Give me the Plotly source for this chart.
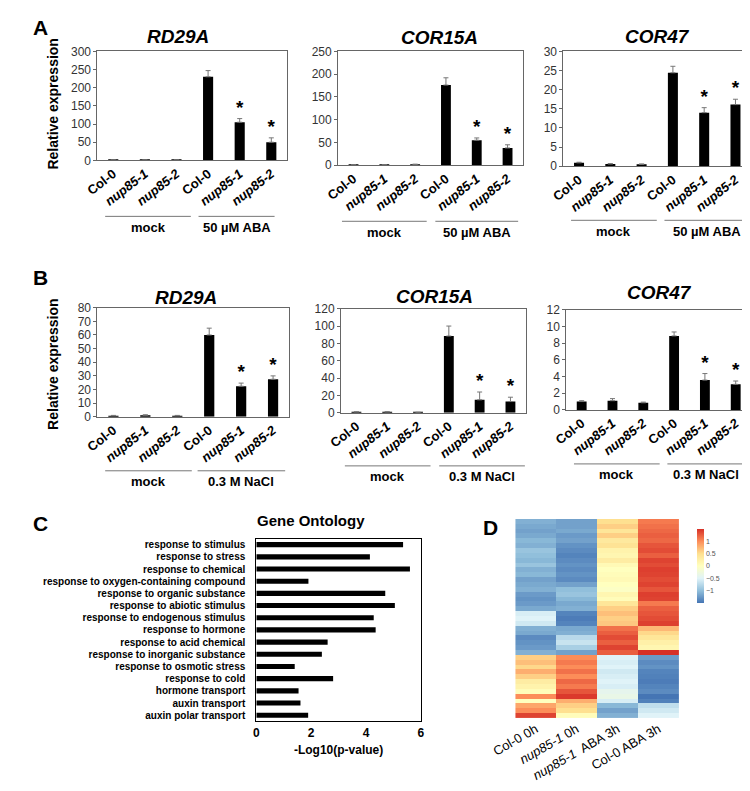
import plotly.graph_objects as go

W, H = 750, 791
def px(x): return x / W
def py(y): return 1 - y / H

FONT = "Arial, Liberation Sans, sans-serif"

# ---------------- data ----------------
genotypes = ["Col-0", "nup85-1", "nup85-2", "Col-0", "nup85-1", "nup85-2"]
significant = [False, False, False, False, True, True]

aba_rd29a = [1.0, 1.0, 1.0, 230, 105, 50]
aba_rd29a_err = [0.2, 0.2, 0.2, 17, 10, 12]
aba_cor15a = [1.0, 1.0, 2.0, 176, 55, 38]
aba_cor15a_err = [0.2, 0.2, 0.3, 16, 5, 7]
aba_cor47 = [0.9, 0.6, 0.5, 24.4, 14.0, 16.1]
aba_cor47_err = [0.15, 0.1, 0.1, 1.7, 1.3, 1.4]

nacl_rd29a = [0.8, 1.2, 0.8, 60, 22.4, 27.5]
nacl_rd29a_err = [0.2, 0.2, 0.2, 5, 2.3, 2.5]
nacl_cor15a = [1.0, 1.0, 0.5, 88.5, 15, 13]
nacl_cor15a_err = [0.2, 0.3, 0.1, 11.5, 9, 5]
nacl_cor47 = [1.0, 1.1, 0.85, 8.86, 3.57, 3.06]
nacl_cor47_err = [0.1, 0.25, 0.08, 0.47, 0.78, 0.4]

go_terms = ["response to stimulus", "response to stress", "response to chemical",
            "response to oxygen-containing compound", "response to organic substance",
            "response to abiotic stimulus", "response to endogenous stimulus",
            "response to hormone", "response to acid chemical",
            "response to inorganic substance", "response to osmotic stress",
            "response to cold", "hormone transport", "auxin transport",
            "auxin polar transport"]
go_log10p = [5.35, 4.14, 5.6, 1.9, 4.7, 5.05, 4.28, 4.35, 2.6, 2.39, 1.4, 2.8, 1.54, 1.61, 1.89]

heat_samples = ["Col-0 0h", "<i>nup85-1</i> 0h", "<i>nup85-1</i>  ABA 3h", "Col-0 ABA 3h"]
col0_0h = [-1.1, -1.15, -1.2, -1.15, -1.05, -1.1, -0.95, -1.0, -1.05, -0.95, -1.1, -1.05, -1.2, -1.15,
           -1.1, -1.25, -1.3, -1.25, -1.15, -0.55, -0.5, -0.6, -1.1, -1.15, -1.35, -1.3, -1.25, -1.1,
           0.6, 0.7, 0.55, 0.8, 0.6, 0.3, 0.2, 0.05, 1.0, 0.0, 0.85, 1.0, 1.4]
nup_0h = [-1.2, -1.2, -1.15, -1.25, -1.2, -1.3, -1.35, -1.4, -1.35, -1.3, -1.35, -1.3, -1.35, -1.2,
          -1.0, -0.95, -1.05, -1.15, -1.1, -1.4, -1.45, -1.4, -1.15, -1.1, -0.75, -0.65, -0.85, -1.2,
          1.0, 1.1, 1.0, 1.15, 1.0, 1.2, 1.1, 1.3, 1.45, 0.8, 0.6, 0.5, 0.05]
nup_aba = [0.5, 0.6, 0.4, 0.6, 0.35, 0.45, 0.2, 0.15, 0.3, 0.1, 0.0, 0.05, 0.1, 0.0, -0.05, 0.15,
           0.05, 0.4, 0.6, 0.7, 0.6, 0.65, 1.15, 1.25, 1.35, 1.25, 1.4, 1.25,
           -0.5, -0.55, -0.5, -0.6, -0.55, -0.5, -0.55, -0.4, -0.35, -0.55, -1.05, -1.2, -1.1]
col0_aba = [1.1, 1.15, 1.2, 1.25, 1.2, 1.3, 1.35, 1.25, 1.4, 1.35, 1.42, 1.4, 1.35, 1.4, 1.3, 1.42,
            1.4, 1.1, 1.25, 1.3, 1.35, 1.42, 0.75, 0.55, 0.4, 0.25, 0.15, 1.5,
            -1.25, -1.35, -1.3, -1.4, -1.42, -1.45, -1.4, -1.35, -1.5, -1.42, -0.7, -0.6, -0.5]

# ---------------- figure ----------------
fig = go.Figure()
layout = dict(width=W, height=H, margin=dict(l=0, r=0, t=0, b=0), autosize=False,
              paper_bgcolor="white", plot_bgcolor="white", showlegend=False,
              font=dict(family=FONT, color="black"))
annotations = []
shapes = []

tick_text = []
for g in genotypes:
    if g.startswith("nup"):
        tick_text.append("<b><i>%s</i></b>" % g)
    else:
        tick_text.append("<b>%s</b>" % g)

panels = [
    (1, aba_rd29a, aba_rd29a_err, "RD29A", 300, 50, 68, 265, 37, 148, (152, 22), 205, (76, 165), (173, 252), "50 µM ABA"),
    (2, aba_cor15a, aba_cor15a_err, "COR15A", 250, 50, 318, 510, 37, 153, (423, 23), 210, (322, 410), (419, 505), "50 µM ABA"),
    (3, aba_cor47, aba_cor47_err, "COR47", 30, 5, 552, 747, 37, 154, (650, 22), 209, (560, 649), (657, 745), "50 µM ABA"),
    (4, nacl_rd29a, nacl_rd29a_err, "RD29A", 80, 10, 68, 267, 298, 409, (160, 288), 464, (76, 166), (172, 263), "0.3 M NaCl"),
    (5, nacl_cor15a, nacl_cor15a_err, "COR15A", 120, 20, 321, 513, 299, 405, (418, 287), 459, (325, 414), (423, 512), "0.3 M NaCl"),
    (6, nacl_cor47, nacl_cor47_err, "COR47", 12, 2, 555, 747, 300, 402, (652, 283), 457, (563, 652), (660, 740), "0.3 M NaCl"),
]

xs = list(range(len(genotypes)))
for (i, vals, err, title, ymax, dtick, x0, x1, y0, y1, tpos, gy, mock, trt, trtlab) in panels:
    xa, ya = "x%d" % i, "y%d" % i
    fig.add_trace(go.Bar(x=xs, y=vals, xaxis=xa, yaxis=ya, width=0.32,
                         marker=dict(color="black", line=dict(width=0)),
                         error_y=dict(type="data", symmetric=False, array=err,
                                      arrayminus=[0] * len(err), color="#777777",
                                      thickness=1, width=2.5)))
    sx = [x for x, s in zip(xs, significant) if s]
    sy = [v + e for v, e, s in zip(vals, err, significant) if s]
    fig.add_trace(go.Scatter(x=sx, y=sy, xaxis=xa, yaxis=ya, mode="text",
                             text=["<b>*</b>"] * len(sx), textposition="top center",
                             textfont=dict(size=19, family=FONT, color="black")))
    layout["xaxis%d" % i] = dict(domain=[px(x0), px(x1)], anchor=ya, range=[-0.5, 5.5],
                                 tickvals=xs, ticktext=tick_text, tickangle=-38,
                                 tickfont=dict(size=13, family=FONT, color="black"),
                                 showline=True, linecolor="#666666", linewidth=1, mirror=True,
                                 ticks="", showgrid=False, zeroline=False, fixedrange=True)
    layout["yaxis%d" % i] = dict(domain=[py(y1), py(y0)], anchor=xa, range=[0, ymax],
                                 dtick=dtick, tick0=0,
                                 tickfont=dict(size=12, family=FONT, color="#333333"),
                                 showline=True, linecolor="#666666", linewidth=1, mirror=True,
                                 ticks="outside", ticklen=3, tickcolor="#666666",
                                 showgrid=False, zeroline=False, fixedrange=True)
    annotations.append(dict(x=px(tpos[0]), y=py(tpos[1]), xref="paper", yref="paper",
                            text="<b><i>%s</i></b>" % title, showarrow=False,
                            font=dict(size=19, family=FONT), xanchor="center", yanchor="middle"))
    for (a, b), lab in ((mock, "mock"), (trt, trtlab)):
        shapes.append(dict(type="line", xref="paper", yref="paper", x0=px(a), x1=px(b),
                           y0=py(gy), y1=py(gy), line=dict(color="#777777", width=1)))
        annotations.append(dict(x=px((a + b) / 2), y=py(gy + 11), xref="paper", yref="paper",
                                text="<b>%s</b>" % lab, showarrow=False,
                                font=dict(size=13, family=FONT), xanchor="center", yanchor="middle"))

for ylab in (90, 355):
    annotations.append(dict(x=px(22), y=py(ylab), xref="paper", yref="paper",
                            text="<b>Relative expression</b>", showarrow=False, textangle=-90,
                            font=dict(size=14, family=FONT), xanchor="center", yanchor="middle"))

# Panel C: GO bar chart
fig.add_trace(go.Bar(x=go_log10p, y=go_terms, orientation="h", xaxis="x7", yaxis="y7",
                     width=0.42, marker=dict(color="black", line=dict(width=0))))
layout["xaxis7"] = dict(domain=[px(233), px(404)], anchor="y7", range=[0, 6], dtick=2,
                        tickfont=dict(size=12, family=FONT, color="black"),
                        tickprefix="<b>", ticksuffix="</b>",
                        title=dict(text="<b>-Log10(p-value)</b>", font=dict(size=12, family=FONT),
                                   standoff=6),
                        showline=True, linecolor="black", linewidth=1, mirror=True,
                        ticks="", showgrid=False, zeroline=False, fixedrange=True)
layout["yaxis7"] = dict(domain=[py(719), py(533)], anchor="x7", autorange="reversed",
                        categoryorder="array", categoryarray=go_terms,
                        tickvals=go_terms, ticktext=["<b>%s</b>" % t for t in go_terms],
                        tickfont=dict(size=10, family=FONT, color="black"),
                        ticklabelstandoff=8,
                        showline=True, linecolor="black", linewidth=1, mirror=True,
                        ticks="", showgrid=False, zeroline=False, fixedrange=True)
annotations.append(dict(x=px(290), y=py(515), xref="paper", yref="paper",
                        text="<b>Gene Ontology</b>", showarrow=False,
                        font=dict(size=15, family=FONT), xanchor="center", yanchor="middle"))

# Panel D: heatmap
z = [list(r) for r in zip(col0_0h, nup_0h, nup_aba, col0_aba)]
rdylbu = [[0.0, "#4575B4"], [1 / 6, "#91BFDB"], [2 / 6, "#E0F3F8"], [3 / 6, "#FFFFBF"],
          [4 / 6, "#FEE090"], [5 / 6, "#FC8D59"], [1.0, "#D73027"]]
fig.add_trace(go.Heatmap(z=z, x=[0, 1, 2, 3], xaxis="x8", yaxis="y8", colorscale=rdylbu,
                         zmin=-1.5, zmax=1.5,
                         colorbar=dict(x=px(680), xanchor="left", y=py(513), yanchor="top",
                                       len=96 / H, lenmode="fraction", thickness=7,
                                       thicknessmode="pixels", outlinewidth=0,
                                       tickvals=[-1, -0.5, 0, 0.5, 1],
                                       ticktext=["\u22121", "\u22120.5", "0", "0.5", "1"],
                                       ticks="", tickfont=dict(size=7, family=FONT, color="#555555"))))
layout["xaxis8"] = dict(domain=[px(502), px(672)], anchor="y8", range=[-0.5, 3.5],
                        tickvals=[0, 1, 2, 3], ticktext=heat_samples, tickangle=-30,
                        tickfont=dict(size=13, family=FONT, color="black"),
                        showline=False, ticks="", showgrid=False, zeroline=False, fixedrange=True)
layout["yaxis8"] = dict(domain=[py(716), py(513)], anchor="x8", autorange="reversed",
                        showticklabels=False, showline=False, ticks="", showgrid=False,
                        zeroline=False, fixedrange=True)

for lab, (x, y) in {"A": (9, 13), "B": (9, 267), "C": (9, 518), "D": (476, 522)}.items():
    annotations.append(dict(x=px(x), y=py(y), xref="paper", yref="paper", text="<b>%s</b>" % lab,
                            showarrow=False, font=dict(size=21, family=FONT),
                            xanchor="center", yanchor="middle"))

layout["annotations"] = annotations
layout["shapes"] = shapes
fig.update_layout(**layout)
fig.write_html("out.html")
